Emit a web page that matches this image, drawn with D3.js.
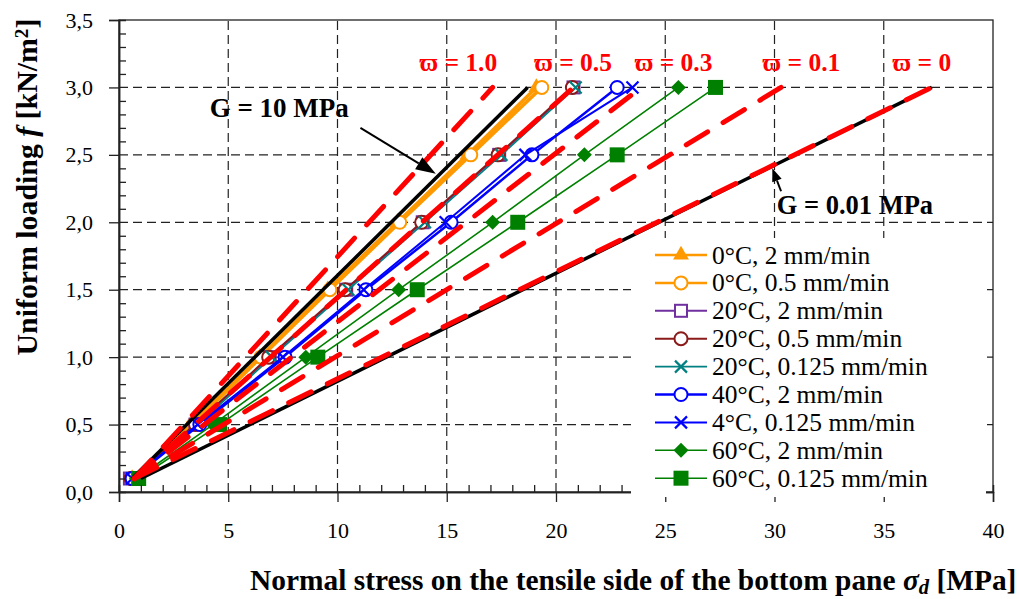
<!DOCTYPE html>
<html>
<head>
<meta charset="utf-8">
<script src="https://cdn.jsdelivr.net/npm/d3@7"></script>
<style>
  body { margin: 0; background: #fff; }
  svg text { font-family: "Liberation Serif", "Times New Roman", serif; }
</style>
</head>
<body>
<svg id="chart" width="1019" height="599"></svg>
<script>
// load levels (kN/m2) shared by every measured series
var loadLevels = [0.1, 0.5, 1.0, 1.5, 2.0, 2.5, 3.0];

// measured stress (MPa) at each load level
var s0c2 = [0.6, 3.3, 6.45, 9.55, 12.75, 15.95, 19.1];
var s0c05 = [0.6, 3.4, 6.5, 9.65, 12.85, 16.1, 19.35];
var s20c2 = [0.5, 3.5, 6.9, 10.4, 13.9, 17.4, 20.8];
var s20c05 = [0.55, 3.5, 6.85, 10.35, 13.85, 17.35, 20.75];
var s20c0125 = [0.6, 3.6, 7.0, 10.5, 14.0, 17.5, 20.9];
var s40c2 = [0.6, 3.7, 7.6, 11.3, 15.2, 18.9, 22.8];
var s4c0125 = [0.6, 3.6, 7.5, 11.2, 14.95, 18.6, 23.5];
var s60c2 = [0.8, 4.3, 8.55, 12.8, 17.1, 21.3, 25.6];
var s60c0125 = [0.9, 4.6, 9.1, 13.65, 18.25, 22.8, 27.3];

var seriesNames = ["0°C, 2 mm/min", "0°C, 0.5 mm/min", "20°C, 2 mm/min", "20°C, 0.5 mm/min",
  "20°C, 0.125 mm/min", "40°C, 2 mm/min", "4°C, 0.125 mm/min", "60°C, 2 mm/min", "60°C, 0.125 mm/min"];

// model lines: [stress, load] end points
var g10Line = [[0.6, 0.1], [18.7, 3.0]];
var g001Line = [[1.0, 0.1], [37.2, 3.0]];
var varpiNames = ["ϖ = 1.0", "ϖ = 0.5", "ϖ = 0.3", "ϖ = 0.1", "ϖ = 0"];
var varpiEnds = [17.1, 20.8, 23.9, 30.3, 37.2];
var varpiStart = [0.7, 0.1];
var varpiTop = 3.0;

var xTicks = [0, 5, 10, 15, 20, 25, 30, 35, 40];
var yTicks = [0, 0.5, 1.0, 1.5, 2.0, 2.5, 3.0, 3.5];

var svg = d3.select("#chart");

var x = d3.scaleLinear().domain([0, 40]).range([119, 993]);
var y = d3.scaleLinear().domain([0, 3.5]).range([492, 20]);

// grid
var grid = svg.append("g").attr("stroke", "#222").attr("stroke-width", 1.2).attr("stroke-dasharray", "9,5");
grid.selectAll(".gx").data(xTicks.slice(1, -1)).enter().append("line")
  .attr("x1", d => x(d)).attr("x2", d => x(d)).attr("y1", y(0)).attr("y2", y(3.5));
grid.selectAll(".gy").data(yTicks.slice(1, -1)).enter().append("line")
  .attr("x1", x(0)).attr("x2", x(40)).attr("y1", d => y(d)).attr("y2", d => y(d));

// series styling
var styles = [
  {data: s0c2, color: "#FF9900", w: 3.5, marker: "triangle"},
  {data: s0c05, color: "#FF9900", w: 3.5, marker: "ocircle"},
  {data: s20c2, color: "#7030A0", w: 2, marker: "osquare"},
  {data: s20c05, color: "#8B1A1A", w: 2, marker: "ocircle"},
  {data: s20c0125, color: "#008080", w: 1.6, marker: "x"},
  {data: s40c2, color: "#0000FF", w: 2.5, marker: "ocircle"},
  {data: s4c0125, color: "#0000FF", w: 2, marker: "x"},
  {data: s60c2, color: "#008000", w: 1.6, marker: "diamond"},
  {data: s60c0125, color: "#008000", w: 1.6, marker: "fsquare"}
];

function drawMarker(g, type, color) {
  if (type == "triangle") {
    g.append("path").attr("d", d3.symbol().type(d3.symbolTriangle).size(110)).attr("fill", color);
  } else if (type == "ocircle") {
    g.append("circle").attr("r", 6.5).attr("fill", "#fff").attr("stroke", color).attr("stroke-width", 2);
  } else if (type == "osquare") {
    g.append("rect").attr("x", -6).attr("y", -6).attr("width", 12).attr("height", 12)
      .attr("fill", "#fff").attr("stroke", color).attr("stroke-width", 2);
  } else if (type == "x") {
    g.append("path").attr("d", "M-6,-6L6,6M-6,6L6,-6").attr("stroke", color).attr("stroke-width", 2.2);
  } else if (type == "diamond") {
    g.append("path").attr("d", "M0,-7.5L7.5,0L0,7.5L-7.5,0Z").attr("fill", color);
  } else if (type == "fsquare") {
    g.append("rect").attr("x", -7.5).attr("y", -7.5).attr("width", 15).attr("height", 15).attr("fill", color);
  }
}

var line = d3.line().x(d => x(d[0])).y(d => y(d[1]));

styles.forEach(function(s) {
  var pts = s.data.map((v, i) => [v, loadLevels[i]]);
  var g = svg.append("g");
  g.append("path").attr("d", line(pts)).attr("fill", "none")
    .attr("stroke", s.color).attr("stroke-width", s.w);
  g.selectAll(".m").data(pts).enter().append("g")
    .attr("transform", d => "translate(" + x(d[0]) + "," + y(d[1]) + ")")
    .each(function() { drawMarker(d3.select(this), s.marker, s.color); });
});

// black model lines
[g10Line, g001Line].forEach(function(l) {
  svg.append("path").attr("d", line(l)).attr("fill", "none").attr("stroke", "#000").attr("stroke-width", 3.5);
});

// red dashed varpi lines
varpiEnds.forEach(function(e) {
  svg.append("path").attr("d", line([varpiStart, [e, varpiTop]])).attr("fill", "none")
    .attr("stroke", "#FF0000").attr("stroke-width", 5).attr("stroke-linecap", "round")
    .attr("stroke-dasharray", "25,18");
});

// varpi labels
var varpiLabelX = [13.75, 19.0, 23.6, 29.45, 35.4];
svg.selectAll(".vl").data(varpiNames).enter().append("text")
  .attr("x", (d, i) => x(varpiLabelX[i])).attr("y", y(3.12))
  .attr("fill", "#FF0000").attr("font-weight", "bold").attr("font-size", 25.5)
  .text(d => d);

// G annotations with arrows
function arrow(x1, y1, x2, y2, head, half) {
  var ang = Math.atan2(y2 - y1, x2 - x1);
  var bx = x2 - head * Math.cos(ang), by = y2 - head * Math.sin(ang);
  svg.append("line").attr("x1", x1).attr("y1", y1).attr("x2", bx).attr("y2", by)
    .attr("stroke", "#000").attr("stroke-width", 2);
  var px = -Math.sin(ang) * half, py = Math.cos(ang) * half;
  svg.append("path").attr("d", "M" + x2 + "," + y2 + "L" + (bx + px) + "," + (by + py) + "L" + (bx - px) + "," + (by - py) + "Z")
    .attr("fill", "#000");
}
svg.append("text").attr("x", x(4.15)).attr("y", y(2.78)).attr("font-weight", "bold").attr("font-size", 27)
  .text("G = 10 MPa");
arrow(x(11.05), y(2.7), x(14.5), y(2.36), 20, 7);
svg.append("text").attr("x", x(30.1)).attr("y", y(2.06)).attr("font-weight", "bold").attr("font-size", 26.5)
  .text("G = 0.01 MPa");
arrow(x(30.3), y(2.23), x(29.9), y(2.4), 13, 5);

// frame
svg.append("rect").attr("x", x(0)).attr("y", y(3.5)).attr("width", x(40) - x(0)).attr("height", y(0) - y(3.5))
  .attr("fill", "none").attr("stroke", "#222").attr("stroke-width", 1.3);

// axes
var fmt = d => d3.format(".1f")(d).replace(".", ",");
var yAxis = svg.append("g").attr("transform", "translate(" + x(0) + ",0)")
  .call(d3.axisLeft(y).tickValues(yTicks).tickFormat(fmt).tickSize(10).tickPadding(16));
var yMinor = svg.append("g").attr("transform", "translate(" + x(0) + ",0)")
  .call(d3.axisRight(y).tickValues(d3.range(1, 35).map(d => d / 10).filter(d => Math.round(d * 10) % 5 != 0))
    .tickFormat("").tickSize(7));
var xAxis = svg.append("g").attr("transform", "translate(0," + y(0) + ")")
  .call(d3.axisBottom(x).tickValues(xTicks).tickSize(10).tickPadding(20));
var xMinor = svg.append("g").attr("transform", "translate(0," + y(0) + ")")
  .call(d3.axisTop(x).tickValues(d3.range(1, 40).filter(d => d % 5 != 0)).tickFormat("").tickSize(7));
[yAxis, yMinor, xAxis, xMinor].forEach(function(a) {
  a.select(".domain").attr("stroke", "#222").attr("stroke-width", 1.5);
  a.selectAll(".tick line").attr("stroke", "#222").attr("stroke-width", 1.3);
  a.selectAll("text").attr("font-family", "Liberation Serif, serif").attr("font-size", 22).attr("fill", "#000");
});

// legend
var legend = svg.append("g");
legend.append("rect").attr("x", 631).attr("y", 238).attr("width", 355).attr("height", 259).attr("fill", "#fff");
styles.forEach(function(s, i) {
  var ly = 255 + i * 27.9;
  var row = legend.append("g").attr("transform", "translate(655," + ly + ")");
  row.append("line").attr("x1", 0).attr("x2", 52).attr("stroke", s.color).attr("stroke-width", Math.min(s.w, 2.5));
  var m = row.append("g").attr("transform", "translate(26,0)");
  drawMarker(m, s.marker, s.color);
  row.append("text").attr("x", 57).attr("y", 8.5).attr("font-size", 25.5).text(seriesNames[i]);
});

// axis titles
function fitText(t, target) {
  var w = t.node().getComputedTextLength();
  t.attr("font-size", +t.attr("font-size") * target / w);
}
var xt = svg.append("text").attr("x", 250).attr("y", 590).attr("font-weight", "bold").attr("font-size", 24);
xt.append("tspan").text("Normal stress on the tensile side of the bottom pane ");
xt.append("tspan").attr("font-style", "italic").text("σ");
xt.append("tspan").attr("font-style", "italic").attr("font-size", "0.7em").attr("dy", 4).text("d");
xt.append("tspan").attr("dy", -4).text(" [MPa]");
fitText(xt, 767);

var yt = svg.append("text").attr("transform", "translate(37,187) rotate(-90)").attr("text-anchor", "middle")
  .attr("font-weight", "bold").attr("font-size", 26);
yt.append("tspan").text("Uniform loading ");
yt.append("tspan").attr("font-style", "italic").text("f");
yt.append("tspan").text(" [kN/m");
yt.append("tspan").attr("font-size", "0.65em").attr("dy", -9).text("2");
yt.append("tspan").attr("dy", 9).text("]");
fitText(yt, 337);
</script>
</body>
</html>
